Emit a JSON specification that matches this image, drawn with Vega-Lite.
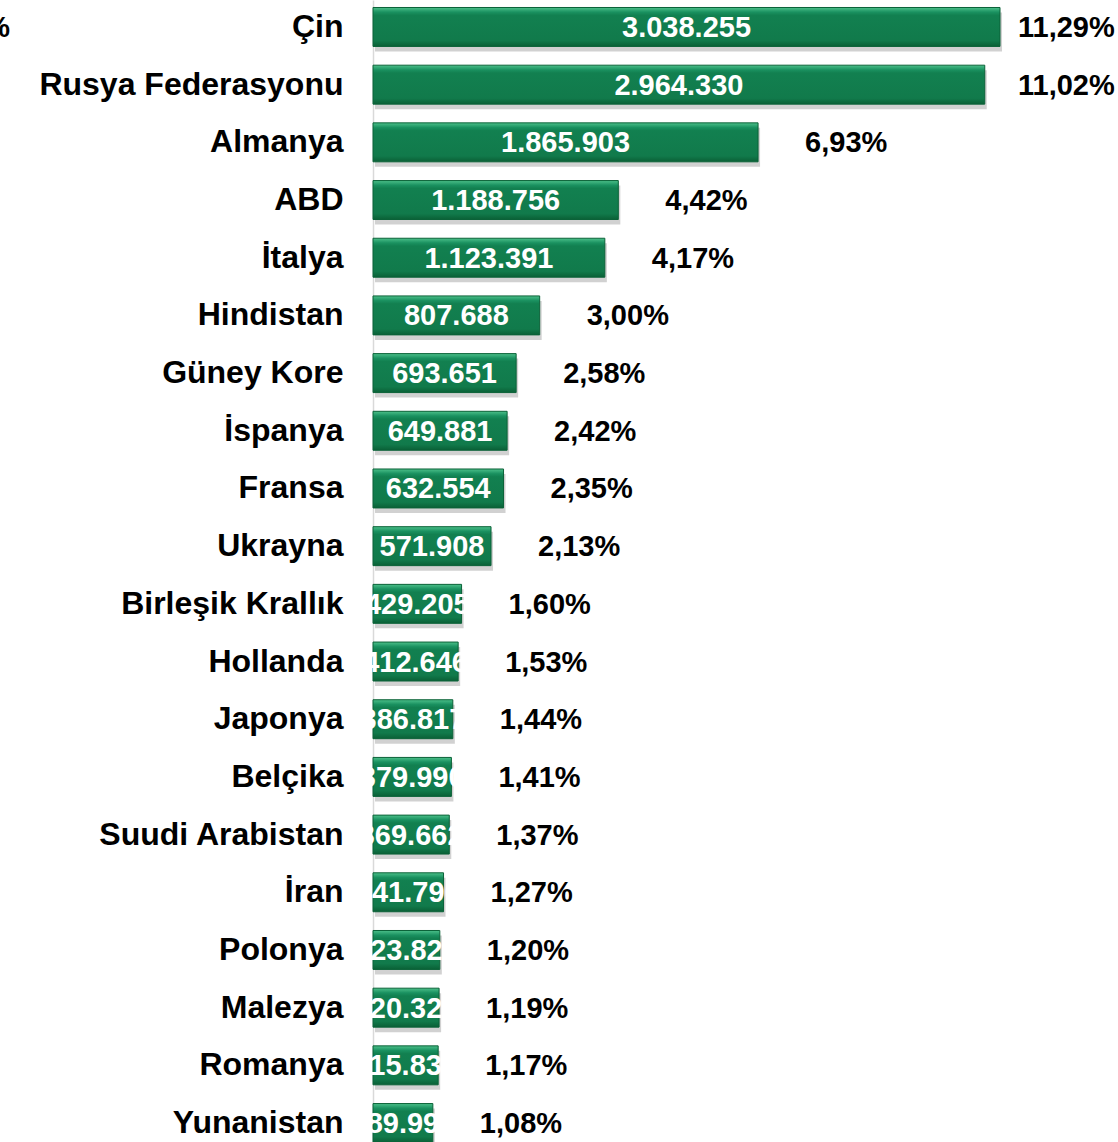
{
  "$schema": "https://vega.github.io/schema/vega-lite/v6.json",
  "width": 745,
  "height": 1150,
  "autosize": "none",
  "padding": {"left": 373, "top": 0, "right": 0, "bottom": 0},
  "background": "white",
  "config": {"view": {"stroke": null}},
  "data": {
    "values": [
      {"country": "Çin", "value": 3038255, "label": "3.038.255", "pct": "11,29%"},
      {"country": "Rusya Federasyonu", "value": 2964330, "label": "2.964.330", "pct": "11,02%"},
      {"country": "Almanya", "value": 1865903, "label": "1.865.903", "pct": "6,93%"},
      {"country": "ABD", "value": 1188756, "label": "1.188.756", "pct": "4,42%"},
      {"country": "İtalya", "value": 1123391, "label": "1.123.391", "pct": "4,17%"},
      {"country": "Hindistan", "value": 807688, "label": "807.688", "pct": "3,00%"},
      {"country": "Güney Kore", "value": 693651, "label": "693.651", "pct": "2,58%"},
      {"country": "İspanya", "value": 649881, "label": "649.881", "pct": "2,42%"},
      {"country": "Fransa", "value": 632554, "label": "632.554", "pct": "2,35%"},
      {"country": "Ukrayna", "value": 571908, "label": "571.908", "pct": "2,13%"},
      {"country": "Birleşik Krallık", "value": 429205, "label": "429.205", "pct": "1,60%"},
      {"country": "Hollanda", "value": 412646, "label": "412.646", "pct": "1,53%"},
      {"country": "Japonya", "value": 386817, "label": "386.817", "pct": "1,44%"},
      {"country": "Belçika", "value": 379990, "label": "379.990", "pct": "1,41%"},
      {"country": "Suudi Arabistan", "value": 369662, "label": "369.662", "pct": "1,37%"},
      {"country": "İran", "value": 341796, "label": "341.796", "pct": "1,27%"},
      {"country": "Polonya", "value": 323821, "label": "323.821", "pct": "1,20%"},
      {"country": "Malezya", "value": 320321, "label": "320.321", "pct": "1,19%"},
      {"country": "Romanya", "value": 315831, "label": "315.831", "pct": "1,17%"},
      {"country": "Yunanistan", "value": 289991, "label": "289.991", "pct": "1,08%"}
    ]
  },
  "encoding": {
    "y": {
      "field": "country",
      "type": "nominal",
      "sort": null,
      "scale": {"paddingInner": 0.325, "paddingOuter": 0.13},
      "axis": {
        "title": null,
        "ticks": false,
        "grid": false,
        "domainColor": "#d9d9d9",
        "domainWidth": 1.5,
        "labelPadding": 30,
        "labelFont": "Liberation Sans",
        "labelFontWeight": "bold",
        "labelFontSize": 32,
        "labelColor": "#000000",
        "labelLimit": 400
      }
    }
  },
  "layer": [
    {
      "mark": {"type": "bar", "color": "#7a7a7a", "opacity": 0.35, "xOffset": 2, "yOffset": 5},
      "encoding": {
        "x": {"field": "value", "type": "quantitative", "scale": {"domain": [0, 3610000], "nice": false, "zero": true}, "axis": null}
      }
    },
    {
      "mark": {
        "type": "bar",
        "stroke": "#0b6238",
        "strokeWidth": 1,
        "fill": {
          "gradient": "linear",
          "x1": 0, "y1": 0, "x2": 0, "y2": 1,
          "stops": [
            {"offset": 0, "color": "#4cc08a"},
            {"offset": 0.12, "color": "#1a9160"},
            {"offset": 0.2, "color": "#128050"},
            {"offset": 0.85, "color": "#117a4b"},
            {"offset": 1, "color": "#0a6036"}
          ]
        }
      },
      "encoding": {
        "x": {"field": "value", "type": "quantitative", "scale": {"domain": [0, 3610000], "nice": false, "zero": true}, "axis": null}
      }
    },
    {
      "transform": [{"calculate": "datum.value / 2", "as": "mid"}],
      "mark": {"type": "text", "font": "Liberation Sans", "fontWeight": "bold", "fontSize": 29, "color": "#ffffff", "align": "center", "baseline": "middle", "dy": 1},
      "encoding": {
        "x": {"field": "mid", "type": "quantitative", "scale": {"domain": [0, 3610000], "nice": false, "zero": true}, "axis": null},
        "text": {"field": "label"}
      }
    },
    {
      "mark": {"type": "text", "font": "Liberation Sans", "fontWeight": "bold", "fontSize": 29, "color": "#000000", "align": "left", "baseline": "middle", "dx": 47, "dy": 1},
      "encoding": {
        "x": {"field": "value", "type": "quantitative", "scale": {"domain": [0, 2897700], "range": [0, 598], "clamp": true, "nice": false, "zero": true}, "axis": null},
        "text": {"field": "pct"}
      }
    },
    {
      "data": {"values": [{"country": "Çin", "t": "%"}]},
      "mark": {"type": "text", "font": "Liberation Sans", "fontWeight": "bold", "fontSize": 29, "color": "#000000", "align": "right", "baseline": "middle", "dy": 1},
      "encoding": {
        "x": {"datum": -1759000, "type": "quantitative", "scale": {"domain": [0, 3610000], "nice": false, "zero": true}, "axis": null},
        "text": {"field": "t"}
      }
    }
  ],
  "resolve": {"scale": {"x": "independent"}}
}
